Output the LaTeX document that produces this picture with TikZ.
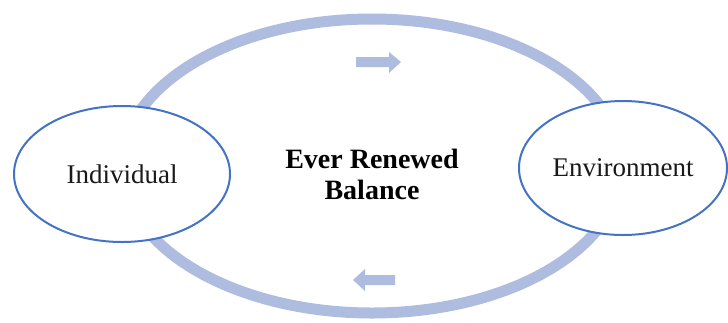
\documentclass[tikz,border=0pt]{standalone}
\usepackage{fontspec}
\setmainfont{Liberation Serif}
\usetikzlibrary{shapes.geometric}
\definecolor{ringblue}{RGB}{174,188,223}
\definecolor{edgeblue}{RGB}{68,114,196}
\definecolor{inktext}{RGB}{25,25,25}
\tikzset{
  cycle ring/.style={draw=ringblue, line width=11bp},
  party/.style={ellipse, draw=edgeblue, line width=2bp, fill=white,
    text=inktext, inner sep=0pt, font=\fontsize{27bp}{31bp}\selectfont},
  flow arrow/.style={fill=ringblue},
  title text/.style={align=center, inner sep=0pt, text=black,
    font=\fontsize{28bp}{31bp}\selectfont\bfseries}
}
\begin{document}
\begin{tikzpicture}[x=1bp, y=-1bp]
  \useasboundingbox (0,0) rectangle (728,322);
  \fill[white] (0,0) rectangle (728,322);

  % the cycle between the two parties
  \draw[cycle ring] (372,166) ellipse [x radius=250, y radius=147];

  % direction of flow along the cycle
  \fill[flow arrow] (356,57) -- (389,57) -- (389,52) -- (401,62) -- (389,73)
    -- (389,67) -- (356,67) -- cycle;
  \fill[flow arrow] (395,275) -- (365,275) -- (365,269) -- (353,280) -- (365,291)
    -- (365,285) -- (395,285) -- cycle;

  % the two parties
  \node[party, minimum width=216bp, minimum height=136bp] (individual) at (122,174) {Individual};
  \node[party, minimum width=208bp, minimum height=134bp] (environment) at (623,168) {Environment};

  % centre caption
  \node[title text] (balance) at (372,174) {Ever Renewed\\Balance};
\end{tikzpicture}
\end{document}
